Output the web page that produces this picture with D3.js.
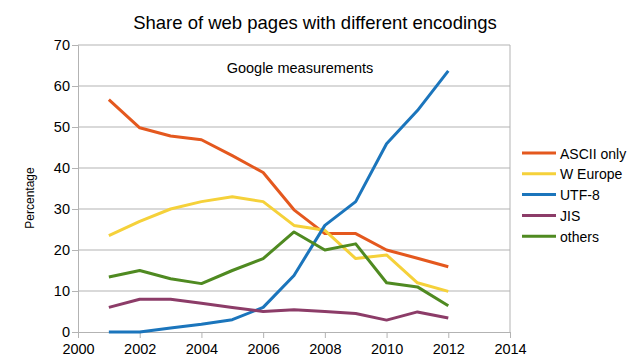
<!DOCTYPE html>
<html><head><meta charset="utf-8">
<script src="https://cdn.jsdelivr.net/npm/d3@7"></script>
<style>body{margin:0;background:#fff}svg{display:block;font-family:"Liberation Sans",Arial,sans-serif}</style>
</head><body><svg id="c" width="640" height="360"></svg>
<script>
const years = [2001,2002,2003,2004,2005,2006,2007,2008,2009,2010,2011,2012];
const seriesNames = ["ASCII only","W Europe","UTF-8","JIS","others"];
const asciiOnly = [56.7,49.8,47.8,46.9,43,38.9,29.8,24,24,20,18,15.9];
const wEurope  = [23.5,27,30,31.8,33,31.8,26,24.8,17.9,18.8,12,9.9];
const utf8     = [0,0,1,1.9,3,6,13.8,26,31.8,45.9,54,63.7];
const jis      = [6,8,8,7,6,5,5.4,5,4.5,2.9,4.9,3.4];
const others   = [13.4,15,13,11.8,15,17.9,24.4,20,21.5,12,11,6.4];
const colors = ["#e4581e","#f5d13a","#1b75bc","#8c3c68","#4f8a21"];
const xTicks = [2000,2002,2004,2006,2008,2010,2012,2014];
const yTicks = [0,10,20,30,40,50,60,70];

const seriesValues = [asciiOnly,wEurope,utf8,jis,others];
const svg = d3.select("#c");
const m = {l:78, r:510, t:45, b:332};
const x = d3.scaleLinear().domain([2000,2014]).range([m.l,m.r]);
const y = d3.scaleLinear().domain([0,70]).range([m.b,m.t]);

// grid
svg.append("g").selectAll("line").data(yTicks.filter(d=>d>0)).join("line")
  .attr("x1",m.l).attr("x2",m.r).attr("y1",d=>y(d)).attr("y2",d=>y(d))
  .attr("stroke","#b3b3b3").attr("stroke-width",1);
svg.append("line").attr("x1",m.r).attr("x2",m.r).attr("y1",m.t).attr("y2",m.b)
  .attr("stroke","#b3b3b3");

const yAxis = svg.append("g").attr("transform",`translate(${m.l},0)`)
  .call(d3.axisLeft(y).tickValues(yTicks).tickSize(6).tickPadding(2).tickFormat(d3.format("d")));
const xAxis = svg.append("g").attr("transform",`translate(0,${m.b})`)
  .call(d3.axisBottom(x).tickValues(xTicks).tickSize(6).tickPadding(6).tickFormat(d3.format("d")));
[yAxis,xAxis].forEach(a=>{
  a.selectAll("path,line").attr("stroke","#b3b3b3");
  a.selectAll("text").attr("font-size","14.5px").attr("fill","#000").attr("font-family","Liberation Sans, Arial, sans-serif");
});

const line = d3.line().x((d,i)=>x(years[i])).y(d=>y(d));
svg.append("g").selectAll("path").data(seriesValues).join("path")
  .attr("d",d=>line(d)).attr("fill","none")
  .attr("stroke",(d,i)=>colors[i]).attr("stroke-width",3).attr("stroke-linejoin","round");

svg.append("text").attr("x",315).attr("y",29).attr("text-anchor","middle")
  .attr("font-size","18.5px").text("Share of web pages with different encodings");
svg.append("text").attr("x",300).attr("y",73).attr("text-anchor","middle")
  .attr("font-size","14.5px").text("Google measurements");
svg.append("text").attr("transform","translate(34,198) rotate(-90)").attr("text-anchor","middle")
  .attr("font-size","12px").text("Percentage");

const lg = svg.append("g").selectAll("g").data(seriesNames).join("g")
  .attr("transform",(d,i)=>`translate(522,${153+i*20.8})`);
lg.append("line").attr("x1",0).attr("x2",34).attr("stroke",(d,i)=>colors[i]).attr("stroke-width",3);
lg.append("text").attr("x",38).attr("y",5.5).attr("font-size","14px").text(d=>d);
</script></body></html>
